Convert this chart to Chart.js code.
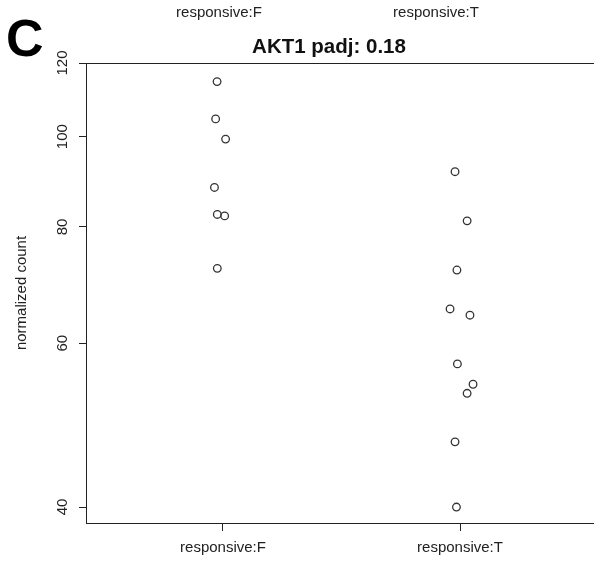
<!DOCTYPE html>
<html>
<head>
<meta charset="utf-8">
<script src="https://cdn.jsdelivr.net/npm/chart.js@4"></script>
<style>
  html, body { margin: 0; padding: 0; background: #fff; overflow: hidden; }
  #wrap { position: absolute; left: 0; top: 0; width: 610px; height: 563px; }
</style>
</head>
<body>
<div id="wrap"><canvas id="c" width="610" height="563"></canvas></div>
<script>
// Groups on the x axis
const categories = ['responsive:F', 'responsive:T'];

// Normalized counts per sample, with the horizontal jitter used by the strip plot
const countsF = [114.6, 104.5, 99.4, 88.2, 82.5, 82.2, 72.2];
const jitterF = [-0.025, -0.031, 0.011, -0.036, -0.024, 0.007, -0.024];
const countsT = [91.7, 81.2, 71.9, 65.3, 64.3, 57.0, 54.2, 53.0, 47.0, 40.0];
const jitterT = [-0.021, 0.030, -0.013, -0.042, 0.042, -0.011, 0.055, 0.030, -0.021, -0.015];

// Axis ticks
const yTicks = [40, 60, 80, 100, 120];

const panelLetter = 'C';
const plotTitle = 'AKT1 padj: 0.18';
const yTitle = 'normalized count';

const FONT = '"Liberation Sans", Arial, Helvetica, sans-serif';
const INK = '#222';

function toPoints(counts, jitter, groupIndex) {
  return counts.map((v, i) => ({ x: groupIndex + 1 + jitter[i], y: v }));
}

// Top frame line, rotated y labels, title and panel letter
const decorations = {
  id: 'decorations',
  afterDraw(chart) {
    const { ctx, chartArea, scales } = chart;
    const { left, top, right, bottom } = chartArea;
    ctx.save();
    ctx.strokeStyle = INK;
    ctx.lineWidth = 1;
    ctx.beginPath();
    ctx.moveTo(left, Math.round(top) + 0.5);
    ctx.lineTo(right, Math.round(top) + 0.5);
    ctx.stroke();

    ctx.fillStyle = INK;
    ctx.font = '15px ' + FONT;
    ctx.textAlign = 'center';
    ctx.textBaseline = 'middle';
    yTicks.forEach(v => {
      const py = scales.y.getPixelForValue(v);
      ctx.save();
      ctx.translate(63, py);
      ctx.rotate(-Math.PI / 2);
      ctx.fillText(String(v), 0, 0);
      ctx.restore();
    });

    ctx.save();
    ctx.translate(22, (top + bottom) / 2);
    ctx.rotate(-Math.PI / 2);
    ctx.fillText(yTitle, 0, 0);
    ctx.restore();

    // group labels of the panel above
    ctx.fillText(categories[0], 219, 13);
    ctx.fillText(categories[1], 436, 13);

    ctx.fillStyle = '#111';
    ctx.font = 'bold 20.5px ' + FONT;
    ctx.textBaseline = 'alphabetic';
    ctx.fillText(plotTitle, 329, 53);

    ctx.font = 'bold 52px ' + FONT;
    ctx.textAlign = 'left';
    ctx.fillStyle = '#000';
    ctx.fillText(panelLetter, 6, 56);
    ctx.restore();
  }
};

new Chart(document.getElementById('c'), {
  type: 'scatter',
  data: {
    datasets: [
      { label: categories[0], data: toPoints(countsF, jitterF, 0) },
      { label: categories[1], data: toPoints(countsT, jitterT, 1) }
    ]
  },
  options: {
    responsive: false,
    animation: false,
    devicePixelRatio: 1,
    layout: { padding: { left: 0, top: 63, right: 13, bottom: 0 } },
    elements: {
      point: {
        pointStyle: 'circle',
        radius: 3.8,
        borderWidth: 1.3,
        borderColor: '#333',
        backgroundColor: 'rgba(0,0,0,0)',
        hoverRadius: 3.8
      }
    },
    plugins: {
      legend: { display: false },
      tooltip: { enabled: false },
      title: { display: false }
    },
    scales: {
      x: {
        type: 'linear',
        min: 0.422,
        max: 2.578,
        afterBuildTicks: s => { s.ticks = categories.map((_, i) => ({ value: i + 1 })); },
        afterFit: s => { s.height = 40; },
        border: { display: true, color: INK, width: 1 },
        grid: { drawOnChartArea: false, drawTicks: true, tickLength: 8, color: INK, lineWidth: 1 },
        ticks: {
          color: INK,
          font: { family: FONT, size: 15 },
          padding: 8,
          maxRotation: 0,
          autoSkip: false,
          callback: v => categories[Math.round(v) - 1] || ''
        }
      },
      y: {
        type: 'logarithmic',
        min: 38.45,
        max: 120,
        afterBuildTicks: s => { s.ticks = yTicks.map(v => ({ value: v })); },
        afterFit: s => { s.width = 86; },
        border: { display: true, color: INK, width: 1 },
        grid: { drawOnChartArea: false, drawTicks: true, tickLength: 7, color: INK, lineWidth: 1 },
        ticks: { display: false }
      }
    }
  },
  plugins: [decorations]
});
</script>
</body>
</html>
